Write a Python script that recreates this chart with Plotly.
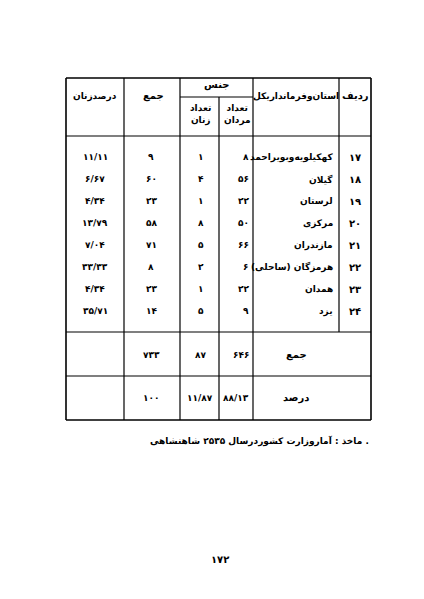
import plotly.graph_objects as go

# table data (Persian digits as printed)
radif = ["۱۷", "۱۸", "۱۹", "۲۰", "۲۱", "۲۲", "۲۳", "۲۴"]
ostan = ["کهکیلویه‌وبویراحمد", "گیلان", "لرستان", "مرکزی", "مازندران",
         "هرمزگان (ساحلی)", "همدان", "یزد"]
mardan = ["۸", "۵۶", "۲۲", "۵۰", "۶۶", "۶", "۲۲", "۹"]
zanan = ["۱", "۴", "۱", "۸", "۵", "۲", "۱", "۵"]
jam = ["۹", "۶۰", "۲۳", "۵۸", "۷۱", "۸", "۲۳", "۱۴"]
darsad_zanan = ["۱۱/۱۱", "۶/۶۷", "۴/۳۴", "۱۳/۷۹", "۷/۰۴", "۳۳/۳۳", "۴/۳۴", "۳۵/۷۱"]
total_row = ["۶۴۶", "۸۷", "۷۳۳"]
percent_row = ["۸۸/۱۳", "۱۱/۸۷", "۱۰۰"]
source = "ماخذ : آماروزارت کشوردرسال ۲۵۳۵ شاهنشاهی ."
page_no = "۱۷۲"

FONT = "DejaVu Sans"
fig = go.Figure()

L, R = 58, 363
TOP, HDR, BODY_END, TOT_END, BOT = 70, 128, 324, 368, 412

shapes = []
def line(x0, y0, x1, y1, w=1.2):
    shapes.append(dict(type="line", x0=x0, y0=y0, x1=x1, y1=y1,
                       line=dict(color="black", width=w)))

line(L, TOP, R, TOP, 1.6)
line(L, BOT, R, BOT, 1.6)
line(L, TOP, L, BOT, 1.6)
line(R, TOP, R, BOT, 1.6)
line(L, HDR, R, HDR)
line(L, BODY_END, R, BODY_END)
line(L, TOT_END, R, TOT_END)
line(172, 89, 245, 89)
for x in [116, 172, 245]:
    line(x, TOP, x, BOT)
line(211, 89, 211, BOT)
line(331, TOP, 331, BODY_END)

ann = []
def txt(x, y, s, size=10, anchor="center"):
    ann.append(dict(x=x, y=y, text=s, showarrow=False, xanchor=anchor,
                    font=dict(family=FONT, size=size, color="black")))

txt(347, 88, "<b>ردیف</b>")
txt(288, 88, "<b>استان‌وفرمانداریکل</b>", 9)
txt(208, 77, "<b>جنس</b>")
txt(229, 106, "<b>تعداد<br>مردان</b>", 9)
txt(192, 106, "<b>تعداد<br>زنان</b>", 9)
txt(145, 88, "<b>جمع</b>")
txt(87, 88, "<b>درصدزنان</b>", 9)

for i in range(len(radif)):
    y = 149 + i * 22
    txt(347, y, "<b>" + radif[i] + "</b>")
    txt(327, y, "<b>" + ostan[i] + "</b>", 9, "right")
    txt(243, y, "<b>" + mardan[i] + "</b>", 9, "right")
    txt(193, y, "<b>" + zanan[i] + "</b>", 9)
    txt(143, y, "<b>" + jam[i] + "</b>", 9)
    txt(87, y, "<b>" + darsad_zanan[i] + "</b>", 9)

txt(288, 347, "<b>جمع</b>")
txt(288, 390, "<b>درصد</b>")
for vals, y in [(total_row, 347), (percent_row, 390)]:
    txt(243, y, "<b>" + vals[0] + "</b>", 9, "right")
    txt(192, y, "<b>" + vals[1] + "</b>", 9)
    txt(143, y, "<b>" + vals[2] + "</b>", 9)

txt(363, 433, "<b>" + source + "</b>", 9, "right")
txt(212, 551, "<b>" + page_no + "</b>", 10)

fig.update_layout(
    width=424, height=599, margin=dict(l=0, r=0, t=0, b=0),
    paper_bgcolor="white", plot_bgcolor="white",
    xaxis=dict(range=[0, 424], visible=False, fixedrange=True),
    yaxis=dict(range=[599, 0], visible=False, fixedrange=True),
    shapes=shapes, annotations=ann, showlegend=False,
)

fig.write_html("out.html")
